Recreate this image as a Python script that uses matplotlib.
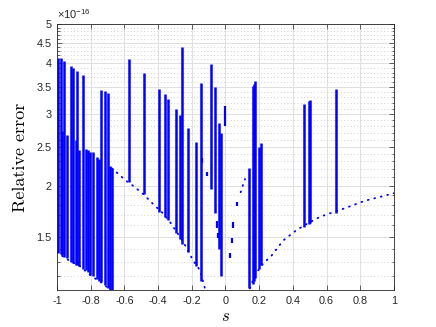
import matplotlib
matplotlib.use("Agg")
import matplotlib.pyplot as plt
import numpy as np
from matplotlib.ticker import FixedLocator, FixedFormatter, NullFormatter

SCALE = 1e-16          # values below are in units of 1e-16
Y_MIN = 2.0 ** -53     # eps/2
Y_MAX = 5e-16
BLUE = (0, 0, 1)

# vertical bursts: position, bottom, top
spike_x = [-0.992, -0.978, -0.968, -0.957, -0.943, -0.914, -0.903, -0.888, -0.879, -0.868,
           -0.844, -0.828, -0.816, -0.804, -0.788, -0.764, -0.749, -0.737, -0.717, -0.697,
           -0.685, -0.676,
           -0.571, -0.484, -0.395, -0.359, -0.341, -0.294, -0.270, -0.256, -0.225, -0.177,
           -0.147, -0.088, -0.062, -0.039, -0.028,
           0.139, 0.163, 0.170, 0.176, 0.197, 0.213, 0.468, 0.494, 0.503, 0.656]
spike_lo = [1.37, 1.36, 1.35, 1.34, 1.33, 1.30, 1.29, 1.28, 1.28, 1.27,
            1.25, 1.24, 1.23, 1.21, 1.20, 1.18, 1.17, 1.16, 1.14, 1.12,
            1.11, 1.11,
            2.05, 1.91, 1.73, 1.68, 1.65, 1.53, 1.48, 1.44, 1.38, 1.27,
            1.17, 1.97, 1.72, 1.40, 1.20,
            1.12, 1.15, 1.17, 1.19, 1.25, 1.28, 1.59, 1.61, 1.62, 1.72]
spike_hi = [4.13, 4.12, 2.73, 4.05, 2.67, 3.95, 3.90, 2.60, 3.83, 2.45,
            3.74, 2.46, 2.45, 2.43, 2.42, 2.36, 2.33, 3.45, 3.42, 3.39,
            2.24, 2.21,
            4.11, 3.79, 3.47, 3.36, 3.27, 3.10, 2.99, 4.39, 2.77, 2.56,
            3.58, 3.98, 3.51, 2.86, 2.70,
            2.22, 3.52, 3.57, 3.62, 2.49, 2.55, 3.18, 3.24, 3.25, 3.47]

# short floating pieces
frag_x = [-0.141, -0.112, -0.050, -0.044, -0.004, 0.029, 0.038, 0.047, 0.071]
frag_lo = [2.28, 2.12, 1.58, 1.49, 2.81, 1.33, 1.45, 1.58, 1.79]
frag_hi = [2.34, 2.17, 1.64, 1.53, 3.15, 1.37, 1.49, 1.63, 1.83]

# dotted baseline branches
low_x = [-1.0, -0.953, -0.864, -0.794, -0.725, -0.685]
low_y = [1.38, 1.33, 1.27, 1.20, 1.15, 1.11]
diag_x = [-0.676, -0.666, -0.636, -0.577, -0.547, -0.488, -0.438, -0.369, -0.329,
          -0.270, -0.240, -0.191, -0.151, -0.122]
diag_y = [2.21, 2.20, 2.14, 2.04, 2.00, 1.91, 1.82, 1.71, 1.63, 1.50, 1.43, 1.31, 1.24, 1.12]
mid_x = [0.090, 0.100, 0.116]
mid_y = [1.93, 1.99, 2.08]
right_x = [0.145, 0.175, 0.224, 0.274, 0.343, 0.423, 0.501, 0.561, 0.650, 0.719, 0.828, 0.917, 1.0]
right_y = [1.12, 1.21, 1.29, 1.35, 1.47, 1.56, 1.63, 1.68, 1.73, 1.77, 1.84, 1.88, 1.92]

xticks = [-1, -0.8, -0.6, -0.4, -0.2, 0, 0.2, 0.4, 0.6, 0.8, 1]
xtick_labels = ["-1", "-0.8", "-0.6", "-0.4", "-0.2", "0", "0.2", "0.4", "0.6", "0.8", "1"]
yticks = [1.5, 2, 2.5, 3, 3.5, 4, 4.5, 5]
ytick_labels = ["1.5", "2", "2.5", "3", "3.5", "4", "4.5", "5"]

plt.rcParams["font.family"] = ["Liberation Sans", "DejaVu Sans"]
plt.rcParams["mathtext.fontset"] = "custom"
plt.rcParams["mathtext.rm"] = "Liberation Sans"

fig = plt.figure(figsize=(4.36, 3.27), dpi=100)
ax = fig.add_axes([0.1307, 0.1131, 0.9037 - 0.1307, 0.9266 - 0.1131])

dot = dict(color=BLUE, lw=1.3, ls=(0, (0.5, 3.2)), dash_capstyle="round")
for cx, cy in [(low_x, low_y), (diag_x, diag_y), (mid_x, mid_y), (right_x, right_y)]:
    ax.plot(cx, np.array(cy) * SCALE, **dot)

ax.vlines(spike_x, np.array(spike_lo) * SCALE, np.array(spike_hi) * SCALE, colors=[BLUE], lw=1.8)
ax.vlines(frag_x, np.array(frag_lo) * SCALE, np.array(frag_hi) * SCALE, colors=[BLUE], lw=1.6)

ax.set_yscale("log")
ax.set_xlim(-1, 1)
ax.set_ylim(Y_MIN, Y_MAX)

ax.xaxis.set_major_locator(FixedLocator(xticks))
ax.xaxis.set_major_formatter(FixedFormatter(xtick_labels))
ax.yaxis.set_major_locator(FixedLocator([v * SCALE for v in yticks]))
ax.yaxis.set_major_formatter(FixedFormatter(ytick_labels))
yminor = [round(v, 1) for v in np.arange(1.2, 5.0, 0.1) if round(v, 1) not in yticks]
ax.yaxis.set_minor_locator(FixedLocator([v * SCALE for v in yminor]))
ax.yaxis.set_minor_formatter(NullFormatter())
ax.xaxis.set_minor_locator(FixedLocator([]))

ax.set_axisbelow(True)
ax.grid(which="major", color="#e0e0e0", lw=0.7)
ax.grid(which="minor", axis="y", color="#c4c4c4", lw=0.6, ls=(0, (1, 3)))

ax.tick_params(which="both", direction="in", top=True, right=True, colors="#262626",
               labelsize=7.8, width=0.5)
ax.tick_params(which="major", length=3.5, pad=4)
ax.tick_params(which="minor", length=1.8)
for sp in ax.spines.values():
    sp.set_color("#262626")
    sp.set_linewidth(0.6)

ax.set_ylabel("Relative error", family="cmr10", fontsize=13, labelpad=6)
ax.set_xlabel("s", family="cmmi10", fontsize=12, labelpad=2)
ax.text(0.0, 1.012, r"$\times10^{-16}$", transform=ax.transAxes, fontsize=8,
        color="#262626", ha="left", va="bottom")

fig.savefig("out.png", dpi=100)
